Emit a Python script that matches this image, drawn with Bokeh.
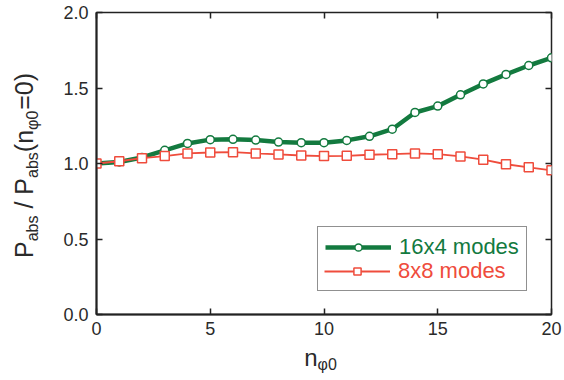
import math
from bokeh.plotting import figure
from bokeh.layouts import row, column
from bokeh.models import (Range1d, LinearAxis, Legend, LegendItem,
                          ColumnDataSource, PrintfTickFormatter)
from bokeh.core.properties import value
from bokeh.embed import file_html
from bokeh.resources import INLINE

# ---------------- data ----------------
n_phi0 = list(range(21))
modes_16x4 = [1.00, 1.01, 1.04, 1.087, 1.133, 1.158, 1.16, 1.155, 1.142, 1.138, 1.138,
              1.153, 1.18, 1.227, 1.338, 1.38, 1.455, 1.527, 1.59, 1.649, 1.70]
modes_8x8 = [1.00, 1.015, 1.035, 1.049, 1.067, 1.073, 1.075, 1.067, 1.06, 1.053, 1.049,
             1.051, 1.058, 1.062, 1.067, 1.062, 1.047, 1.025, 0.995, 0.975, 0.955]
x_ticks = [0, 5, 10, 15, 20]
y_ticks = [0.0, 0.5, 1.0, 1.5, 2.0]
series_labels = ["16x4 modes", "8x8 modes"]

# ---------------- style / layout ----------------
GREEN = "#137a3f"
RED = "#ef4c3c"
AXIS = "#222222"
TEXT = "#2a2a2a"
FONT = "Liberation Sans"

TOTAL_W, TOTAL_H = 563, 378
YT_W = 58                     # strip holding the y title
MAIN_W = TOTAL_W - YT_W
FL, FT = 38, 12
FW, FH = 455, 302
FR = MAIN_W - FL - FW
FB = 28
MAIN_H = FT + FH + FB
XT_H = TOTAL_H - MAIN_H       # strip holding the x title
X0, X1, Y0, Y1 = 0, 20, 0, 2

p = figure(frame_width=FW, frame_height=FH,
           min_border_left=FL, min_border_right=FR,
           min_border_top=FT, min_border_bottom=FB,
           x_range=Range1d(X0, X1), y_range=Range1d(Y0, Y1),
           output_backend="svg", toolbar_location=None,
           background_fill_color="white", border_fill_color="white")
p.grid.visible = False
p.outline_line_color = AXIS
p.outline_line_width = 1.5


def style_axis(ax, labels=True):
    ax.major_tick_in = 6
    ax.major_tick_out = 0
    ax.minor_tick_line_color = None
    ax.major_tick_line_color = AXIS
    ax.major_tick_line_width = 1.5
    if labels:
        ax.axis_line_color = AXIS
        ax.axis_line_width = 2
        ax.major_label_text_font = FONT
        ax.major_label_text_font_size = "18px"
        ax.major_label_text_color = TEXT
    else:
        ax.axis_line_color = None
        ax.major_label_text_font_size = "1px"
        ax.major_label_text_color = None
        ax.major_label_standoff = 0


style_axis(p.xaxis[0])
p.xaxis[0].ticker = x_ticks
p.xaxis[0].major_label_standoff = 7
style_axis(p.yaxis[0])
p.yaxis[0].ticker = y_ticks
p.yaxis[0].formatter = PrintfTickFormatter(format="%.1f")
p.yaxis[0].major_label_standoff = 8

top_ax = LinearAxis(ticker=x_ticks)
style_axis(top_ax, labels=False)
p.add_layout(top_ax, "above")
right_ax = LinearAxis(ticker=y_ticks)
style_axis(right_ax, labels=False)
p.add_layout(right_ax, "right")

# ---------------- series ----------------
src = ColumnDataSource(dict(n=n_phi0, g=modes_16x4, r=modes_8x8))
gl = p.line("n", "g", source=src, line_color=GREEN, line_width=4.5)
gs = p.scatter("n", "g", source=src, marker="circle", size=8, fill_color="white",
               line_color=GREEN, line_width=1.5)
dummy = p.line("n", "r", source=src, line_alpha=0)
rl = p.line("n", "r", source=src, line_color=RED, line_width=1.8)
rs = p.scatter("n", "r", source=src, marker="square", size=9, fill_color="white",
               line_color=RED, line_width=1.5)

# ---------------- legend ----------------
leg_loc = (221, 23)
common = dict(location=leg_loc, padding=7, spacing=0, label_height=23, glyph_height=18,
              glyph_width=66, label_standoff=8, label_text_font=FONT,
              label_text_font_size="22px", margin=0)
legA = Legend(items=[LegendItem(label=series_labels[0], renderers=[gl, gs]),
                     LegendItem(label=" ", renderers=[dummy])],
              label_text_color=GREEN, border_line_color=AXIS, border_line_width=1,
              background_fill_color="white", background_fill_alpha=1, **common)
legB = Legend(items=[LegendItem(label=series_labels[1], renderers=[rl, rs])],
              label_text_color=RED, border_line_alpha=0, background_fill_alpha=0,
              **common)
p.add_layout(legA)
p.add_layout(legB)

# ---------------- axis titles with subscripts ----------------
WID = {'P': 667, 'a': 556, 'b': 556, 's': 500, ' ': 278, '/': 278, '(': 333, 'n': 556,
       'φ': 700, '0': 556, '=': 584, ')': 333}


def tw(t, size):
    return sum(WID.get(c, 556) for c in t) * size / 1000.0


def mid_shift(size):
    # distance from alphabetic baseline to the text's middle
    return 0.34 * size


def strip(w, h, xr):
    f = figure(width=w, height=h, x_range=xr, y_range=Range1d(0, h),
               x_axis_type=None, y_axis_type=None, min_border=0,
               output_backend="svg", toolbar_location=None,
               background_fill_color="white", border_fill_color="white")
    f.outline_line_color = None
    f.grid.visible = False
    return f


SUB = 16

# y title (rotated), strip pixel coords, y measured from the strip bottom
YMAIN = 25
yt = strip(YT_W, TOTAL_H, Range1d(0, YT_W))
ylabel_parts = [("P", False, 0), ("abs", True, 0), ("/", False, 1), ("P", False, 1),
                ("abs", True, 0), ("(n", False, 0), ("φ0", True, 0), ("=0", False, 0),
                (")", False, 0)]
total = sum(tw(" " * k + t, SUB if s else YMAIN) for t, s, k in ylabel_parts)
ycenter = TOTAL_H - 165
base_main, base_sub = 32, 37          # baselines (page x)
pos = ycenter - total / 2
for t, s, k in ylabel_parts:
    size = SUB if s else YMAIN
    pos += tw(" " * k, YMAIN)
    bx = (base_sub if s else base_main) - mid_shift(size)
    yt.text(x=[bx], y=[pos], text=[t], angle=math.pi / 2,
            text_font=value(FONT), text_font_size=value(f"{size}px"), text_color=TEXT,
            text_align="left", text_baseline="middle")
    pos += tw(t, size)

# x title, x coordinates in main-figure pixels (strip frame aligns with main frame)
XMAIN = 24
xt = strip(MAIN_W, XT_H, Range1d(FL, FL + FW))
xlabel_parts = [("n", False), ("φ0", True)]
xtotal = sum(tw(t, SUB if s else XMAIN) for t, s in xlabel_parts)
xpos = FL + FW / 2 - 3 - xtotal / 2
base_y_main, base_y_sub = TOTAL_H - 365, TOTAL_H - 369   # baselines from strip bottom
for t, s in xlabel_parts:
    size = SUB if s else XMAIN
    by = (base_y_sub if s else base_y_main) + mid_shift(size)
    xt.text(x=[xpos], y=[by], text=[t],
            text_font=value(FONT), text_font_size=value(f"{size}px"), text_color=TEXT,
            text_align="left", text_baseline="middle")
    xpos += tw(t, size)

layout = row(yt, column(p, xt, spacing=0), spacing=0)
open("out.html", "w").write(file_html(layout, INLINE))
